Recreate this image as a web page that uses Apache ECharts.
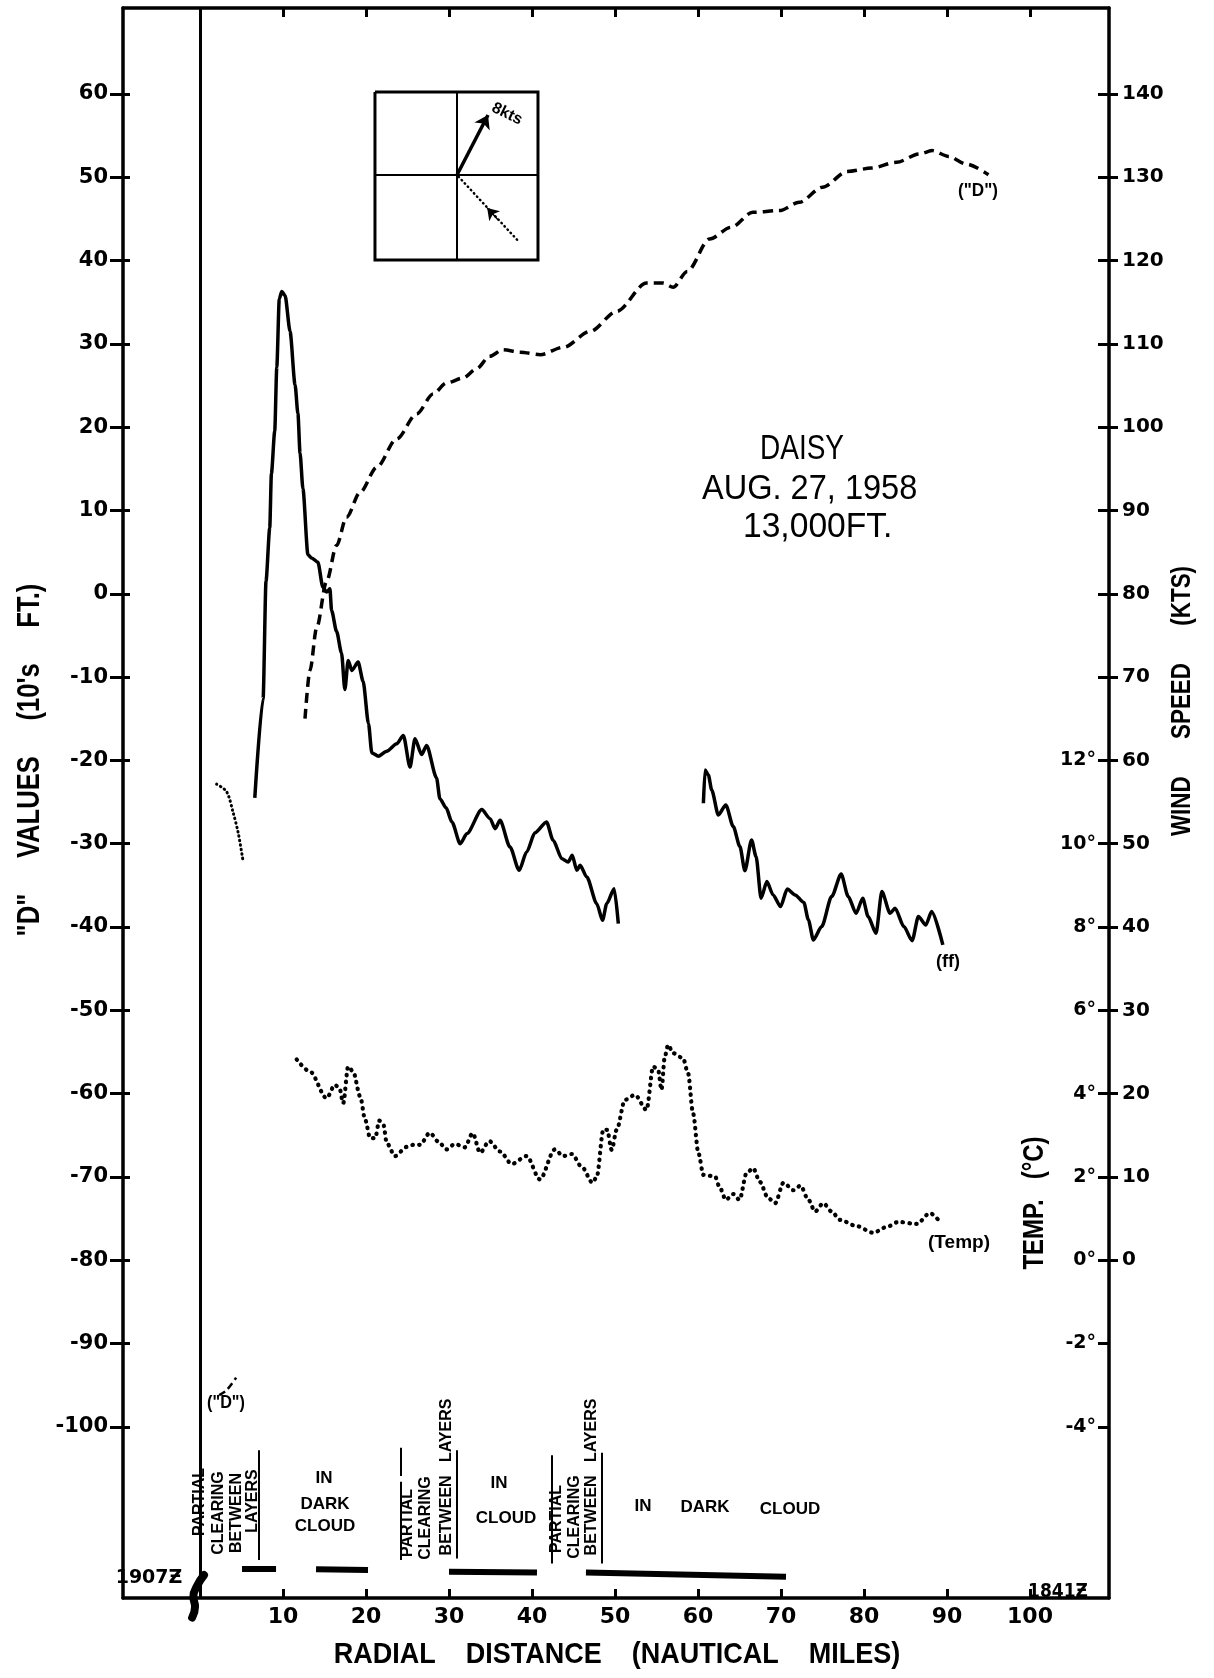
<!DOCTYPE html>
<html><head><meta charset="utf-8">
<script src="https://cdn.jsdelivr.net/npm/echarts@6/dist/echarts.min.js"></script>
<style>html,body{margin:0;padding:0;background:#fff}#c{width:1214px;height:1678px}</style>
</head><body><div id="c"></div>
<script>
// ---------------- data ----------------
// x: radial distance (nautical miles); "D" in 10's ft; wind speed in kts; temperature in deg C
const xTicks = [10, 20, 30, 40, 50, 60, 70, 80, 90, 100];
const dTicks = [60, 50, 40, 30, 20, 10, 0, -10, -20, -30, -40, -50, -60, -70, -80, -90, -100];
const windTicks = [0, 10, 20, 30, 40, 50, 60, 70, 80, 90, 100, 110, 120, 130, 140];
const tempTicks = [-4, -2, 0, 2, 4, 6, 8, 10, 12];
const tempTickMarks = [-4, -2, 0, 2, 4, 6, 8, 10, 12, 14, 16, 18, 20, 22, 24, 26, 28];

// "D" values (dashed)
const dCurve = [[12.65,-15.0],[13.25,-9.2],[14.05,-4.1],[15.25,1.5],[16.45,5.8],[17.65,9.2],[19.3,12.2],[21.3,15.2],[23.7,18.6],[26.1,21.6],[28.1,24.0],[29.7,25.3],[31.7,25.9],[33.3,27.0],[34.9,28.5],[36.5,29.3],[38.6,29.0],[41.0,28.7],[43.8,29.6],[47.0,31.5],[50.2,33.9],[53.8,37.3],[55.8,37.3],[57.0,36.8],[58.7,38.7],[61.4,42.6],[64.0,44.0],[66.6,45.8],[69.8,46.0],[72.2,47.0],[75.0,48.8],[78.0,50.7],[80.9,51.1],[83.9,51.8],[86.7,52.8],[88.2,53.2],[90.2,52.5],[92.3,51.6],[95.0,50.3]];
const dCurveStart = [[2.3,-96.2],[3.2,-95.6],[4.35,-94.1]];

// wind speed ff (kts, solid)
const ffInner = [[6.6,55.5],[7.6,67.4],[7.95,81.5],[8.4,87.9],[8.6,94.4],[9.0,99.5],[9.25,107.2],[9.55,115.4],[9.85,116.3],[10.25,115.8],[10.85,111.5],[11.45,105.1],[11.8,101.6],[12.05,96.9],[12.4,92.6],[13.0,84.7],[13.45,84.3],[14.2,83.8],[14.8,80.8],[15.25,80.2],[15.65,80.6],[15.85,78.0],[16.45,75.5],[17.05,72.9],[17.45,68.5],[17.85,72.0],[18.3,70.8],[19.05,71.8],[19.65,69.5],[20.3,64.4],[20.7,60.9],[21.5,60.5],[22.5,61.1],[23.7,62.0],[24.5,63.0],[25.3,59.2],[25.9,62.6],[26.7,60.7],[27.3,61.8],[28.5,57.9],[28.9,55.4],[29.65,54.3],[30.35,52.6],[31.35,50.0],[32.15,51.2],[33.95,54.1],[34.95,53.0],[35.55,51.8],[36.15,52.8],[37.35,49.6],[38.45,46.8],[39.35,49.0],[40.35,51.3],[41.75,52.6],[42.55,50.4],[43.6,48.2],[44.35,47.8],[44.85,48.6],[45.4,46.8],[45.8,47.4],[46.6,46.0],[47.8,42.8],[48.5,40.8],[49.0,42.8],[49.9,44.6],[50.4,40.4]];
const ffOuter = [[60.65,54.85],[60.85,58.85],[61.25,58.25],[61.65,56.45],[62.45,53.45],[63.35,54.65],[64.25,52.05],[65.05,49.65],[65.65,46.75],[66.45,50.45],[67.0,48.45],[67.6,43.45],[68.3,45.45],[69.05,43.85],[69.95,42.45],[70.75,44.55],[71.7,43.85],[72.75,42.95],[73.3,40.85],[73.9,38.45],[74.9,40.05],[76.1,43.65],[77.25,46.35],[78.1,43.65],[79.05,41.65],[79.85,43.45],[80.5,41.25],[81.45,39.25],[82.15,44.25],[83.15,41.65],[83.75,42.25],[84.8,40.05],[85.8,38.35],[86.55,41.25],[87.45,40.25],[88.15,41.85],[89.5,37.85]];

// temperature (deg C, dotted)
const tempEye = [[2.0,11.43],[3.2,11.25],[4.0,10.74],[4.6,10.26],[5.15,9.63]];
const tempMain = [[11.65,4.82],[13.25,4.53],[15.25,3.89],[16.25,4.21],[16.8,4.13],[17.25,3.77],[17.85,4.65],[18.45,4.53],[19.3,3.93],[19.9,3.37],[20.5,2.93],[21.1,2.93],[21.6,3.35],[22.1,3.25],[22.5,2.81],[23.5,2.50],[24.9,2.72],[25.7,2.77],[26.5,2.77],[27.7,3.06],[28.7,2.85],[29.7,2.66],[30.7,2.79],[31.9,2.71],[32.85,3.05],[33.75,2.58],[34.85,2.86],[36.15,2.61],[37.55,2.31],[39.35,2.50],[40.95,1.94],[42.75,2.66],[43.75,2.50],[44.8,2.55],[46.0,2.24],[47.3,1.86],[47.8,2.00],[48.6,3.14],[49.05,3.13],[49.6,2.65],[50.2,3.13],[51.2,3.85],[52.4,3.97],[53.8,3.61],[54.6,4.65],[55.2,4.57],[55.6,4.09],[56.0,4.89],[56.4,5.17],[57.0,4.97],[58.2,4.85],[58.8,4.49],[59.4,3.53],[60.05,2.57],[60.65,2.05],[62.05,2.01],[62.65,1.73],[63.35,1.45],[64.25,1.59],[65.0,1.45],[65.85,2.09],[66.65,2.21],[67.45,1.88],[68.45,1.49],[69.3,1.37],[70.3,1.86],[71.5,1.68],[72.35,1.79],[73.3,1.45],[74.1,1.17],[75.1,1.37],[76.1,1.17],[77.1,0.97],[79.1,0.82],[81.1,0.66],[82.75,0.80],[84.15,0.92],[86.35,0.87],[87.95,1.13],[88.95,0.97]];

// cloud condition bars: [xStart, xEnd, dStart, dEnd]
const cloudBars = [[5.06,9.16,-117.0,-117.0],[13.98,20.24,-117.1,-117.2],[30.0,40.6,-117.4,-117.5],[46.5,70.6,-117.5,-118.0]];
// separator rules in the cloud notes: [x, dTop, dBottom]
const cloudRules = [[7.1,-102.8,-116.0],[24.2,-102.5,-105.9],[24.2,-106.6,-116.0],[30.96,-102.8,-115.8],[42.4,-103.4,-116.4],[48.4,-103.1,-116.4]];
// wind vector inset (in chart units)
const insetBox = [[21.08,60.24],[40.72,60.24],[40.72,40.07],[21.08,40.07],[21.08,60.24]];
const insetCross = [[[30.96,60.24],[30.96,40.07]],[[21.08,50.28],[40.72,50.28]]];
const arrowSolid = [[30.96,50.28],[34.7,57.48]];
const arrowDotted = [[38.2,42.5],[30.96,50.28]];
const arrowDottedHead = [[35.9,44.9],[34.6,46.3]];
const breakMark = [[0.48,-117.8],[-0.3,-119.0],[-0.8,-120.4],[-0.6,-121.6],[-0.95,-122.9]];

// ---------------- layout ----------------
const X_MIN = -9.28, X_MAX = 109.52, D_MIN = -120.55, D_MAX = 70.32;
const K_MIN = D_MIN + 80, K_MAX = D_MAX + 80;
const T_MIN = K_MIN / 5, T_MAX = K_MAX / 5;
const BLACK = '#000';
const NUMF = 'DejaVu Sans';
const TXTF = 'Liberation Sans';

const chart = echarts.init(document.getElementById('c'), null, {renderer: 'canvas', width: 1214, height: 1678});

function txt(x, y, text, size, o) {
  o = o || {};
  const al = o.align || 'center';
  return {type: 'text', x: x, y: y, rotation: o.rot || 0, scaleX: o.sx || 1, z: 100,
    style: {text: text, fontSize: size, fontFamily: o.ff || TXTF, fontWeight: o.fw || 'bold', fill: BLACK,
      textAlign: al, align: al, textVerticalAlign: 'middle', verticalAlign: 'middle'}};
}
const V = Math.PI / 2;

const graphics = [
  txt(30, 760, '"D"     VALUES     (10\'s     FT.)', 32, {rot: V, sx: 0.8}),
  txt(1182, 701, 'WIND      SPEED      (KTS)', 28, {rot: V, sx: 0.8}),
  txt(1035, 1203, 'TEMP.   (°C)', 30, {rot: V, sx: 0.8}),
  txt(617, 1655, 'RADIAL    DISTANCE    (NAUTICAL    MILES)', 30, {sx: 0.9}),
  txt(760, 449, 'DAISY', 35, {align: 'left', fw: 'normal', sx: 0.8}),
  txt(702, 489, 'AUG. 27, 1958', 35, {align: 'left', fw: 'normal', sx: 0.93}),
  txt(743, 527, '13,000FT.', 35, {align: 'left', fw: 'normal', sx: 0.96}),
  txt(978, 191, '("D")', 19, {sx: 0.9}),
  txt(948, 962, '(ff)', 18),
  txt(959, 1243, '(Temp)', 19),
  txt(226, 1403, '("D")', 18, {sx: 0.9}),
  txt(149, 1578, '1907Ƶ', 20, {ff: NUMF, sx: 0.95}),
  txt(1058, 1592, '1841Ƶ', 19, {ff: NUMF, sx: 0.9}),
  txt(507, 114, '8kts', 16, {rot: -0.45}),
  // cloud notes
  txt(200, 1502, 'PARTIAL', 16, {rot: V}),
  txt(219, 1513, 'CLEARING', 16, {rot: V}),
  txt(237, 1513, 'BETWEEN', 16, {rot: V}),
  txt(253, 1501, 'LAYERS', 16, {rot: V}),
  txt(324, 1478, 'IN', 17),
  txt(325, 1504, 'DARK', 17),
  txt(325, 1526, 'CLOUD', 17),
  txt(408, 1523, 'PARTIAL', 16, {rot: V}),
  txt(426, 1518, 'CLEARING', 16, {rot: V}),
  txt(447, 1477, 'BETWEEN   LAYERS', 16, {rot: V}),
  txt(499, 1483, 'IN', 17),
  txt(506, 1518, 'CLOUD', 17),
  txt(557, 1519, 'PARTIAL', 16, {rot: V}),
  txt(575, 1517, 'CLEARING', 16, {rot: V}),
  txt(592, 1477, 'BETWEEN   LAYERS', 16, {rot: V}),
  txt(643, 1506, 'IN', 17),
  txt(705, 1507, 'DARK', 17),
  txt(790, 1509, 'CLOUD', 17)
];

const lineW = 3.5;
const tickStyle = {color: BLACK, width: 3};

const option = {
  animation: false,
  backgroundColor: '#fff',
  grid: {left: 123, right: 105, top: 8, bottom: 80, containLabel: false},
  xAxis: [
    {type: 'value', position: 'bottom', min: X_MIN, max: X_MAX,
      axisLine: {show: true, onZero: false, lineStyle: {color: BLACK, width: lineW}},
      axisTick: {show: true, inside: true, length: 9, customValues: xTicks, lineStyle: tickStyle},
      axisLabel: {show: true, customValues: xTicks, color: BLACK, fontFamily: NUMF, fontWeight: 'bold', fontSize: 22, margin: 8},
      splitLine: {show: false}},
    {type: 'value', position: 'top', min: X_MIN, max: X_MAX,
      axisLine: {show: true, onZero: false, lineStyle: {color: BLACK, width: lineW}},
      axisTick: {show: true, inside: true, length: 9, customValues: xTicks, lineStyle: tickStyle},
      axisLabel: {show: false}, splitLine: {show: false}}
  ],
  yAxis: [
    {type: 'value', position: 'left', min: D_MIN, max: D_MAX,
      axisLine: {show: true, onZero: false, lineStyle: {color: BLACK, width: lineW}},
      axisTick: {show: true, inside: false, length: 13, customValues: dTicks, lineStyle: tickStyle},
      axisLabel: {show: true, customValues: dTicks, color: BLACK, fontFamily: NUMF, fontWeight: 'bold', fontSize: 21, margin: 15},
      splitLine: {show: false}},
    {type: 'value', position: 'left', min: D_MIN, max: D_MAX,
      axisLine: {show: false, onZero: false},
      axisTick: {show: true, inside: true, length: 7, customValues: dTicks, lineStyle: tickStyle},
      axisLabel: {show: false}, splitLine: {show: false}},
    {type: 'value', position: 'right', min: K_MIN, max: K_MAX,
      axisLine: {show: true, onZero: false, lineStyle: {color: BLACK, width: lineW}},
      axisTick: {show: true, inside: false, length: 9, customValues: windTicks, lineStyle: tickStyle},
      axisLabel: {show: true, customValues: windTicks, color: BLACK, fontFamily: NUMF, fontWeight: 'bold', fontSize: 20, margin: 13},
      splitLine: {show: false}},
    {type: 'value', position: 'right', min: T_MIN, max: T_MAX,
      axisLine: {show: false, onZero: false},
      axisTick: {show: true, inside: true, length: 11, customValues: tempTickMarks, lineStyle: tickStyle},
      axisLabel: {show: true, inside: true, customValues: tempTicks, formatter: function (v) { return v + '°'; },
        color: BLACK, fontFamily: NUMF, fontWeight: 'bold', fontSize: 19, margin: 13},
      splitLine: {show: false}}
  ],
  graphic: {elements: graphics},
  series: [
    {type: 'line', name: '"D"', xAxisIndex: 0, yAxisIndex: 0, data: dCurve, symbol: 'none', smooth: 0.3, smoothMonotone: 'x',
      lineStyle: {color: BLACK, width: 3.5, type: [10, 6]}},
    {type: 'line', name: '"D" start', xAxisIndex: 0, yAxisIndex: 0, data: dCurveStart, symbol: 'none', smooth: 0.3,
      lineStyle: {color: BLACK, width: 2.5, type: [7, 4]}},
    {type: 'line', name: 'ff', xAxisIndex: 0, yAxisIndex: 2, data: ffInner, symbol: 'none', smooth: 0.25, smoothMonotone: 'x',
      lineStyle: {color: BLACK, width: 3.5}},
    {type: 'line', name: 'ff outer', xAxisIndex: 0, yAxisIndex: 2, data: ffOuter, symbol: 'none', smooth: 0.25, smoothMonotone: 'x',
      lineStyle: {color: BLACK, width: 3.5}},
    {type: 'line', name: 'Temp eye', xAxisIndex: 0, yAxisIndex: 3, data: tempEye, symbol: 'none', smooth: 0.3,
      lineStyle: {color: BLACK, width: 3, type: [0.5, 4], cap: 'round'}},
    {type: 'line', name: 'Temp', xAxisIndex: 0, yAxisIndex: 3, data: tempMain, symbol: 'none', smooth: 0.3, smoothMonotone: 'x',
      lineStyle: {color: BLACK, width: 4.2, type: [0.5, 6.3], cap: 'round'}},
    // x = 0 reference line
    {type: 'lines', coordinateSystem: 'cartesian2d', xAxisIndex: 0, yAxisIndex: 0,
      data: [{coords: [[0, D_MIN], [0, D_MAX]]}], lineStyle: {color: BLACK, width: 3, opacity: 1, curveness: 0}},
    // break mark
    {type: 'line', xAxisIndex: 0, yAxisIndex: 0, data: breakMark, symbol: 'none', smooth: 0.5, clip: false,
      lineStyle: {color: BLACK, width: 8, cap: 'round'}},
    // inset box and cross
    {type: 'lines', coordinateSystem: 'cartesian2d', xAxisIndex: 0, yAxisIndex: 0, polyline: true,
      data: [{coords: insetBox}], lineStyle: {color: BLACK, width: 3, opacity: 1}},
    {type: 'lines', coordinateSystem: 'cartesian2d', xAxisIndex: 0, yAxisIndex: 0,
      data: insetCross.map(function (c) { return {coords: c}; }), lineStyle: {color: BLACK, width: 2, opacity: 1}},
    {type: 'lines', coordinateSystem: 'cartesian2d', xAxisIndex: 0, yAxisIndex: 0, symbol: ['none', 'arrow'], symbolSize: 13,
      data: [{coords: arrowSolid}], lineStyle: {color: BLACK, width: 3.5, opacity: 1}},
    {type: 'lines', coordinateSystem: 'cartesian2d', xAxisIndex: 0, yAxisIndex: 0,
      data: [{coords: arrowDotted}], lineStyle: {color: BLACK, width: 2.5, opacity: 1, type: [0.5, 4], cap: 'round'}},
    {type: 'lines', coordinateSystem: 'cartesian2d', xAxisIndex: 0, yAxisIndex: 0, symbol: ['none', 'arrow'], symbolSize: 11,
      data: [{coords: arrowDottedHead}], lineStyle: {color: BLACK, width: 1.5, opacity: 1}},
    // cloud condition bars and rules
    {type: 'lines', coordinateSystem: 'cartesian2d', xAxisIndex: 0, yAxisIndex: 0,
      data: cloudBars.map(function (b) { return {coords: [[b[0], b[2]], [b[1], b[3]]]}; }),
      lineStyle: {color: BLACK, width: 6, opacity: 1}},
    {type: 'lines', coordinateSystem: 'cartesian2d', xAxisIndex: 0, yAxisIndex: 0,
      data: cloudRules.map(function (r) { return {coords: [[r[0], r[1]], [r[0], r[2]]]}; }),
      lineStyle: {color: BLACK, width: 2, opacity: 1}}
  ]
};
chart.setOption(option);
</script>
</body></html>
